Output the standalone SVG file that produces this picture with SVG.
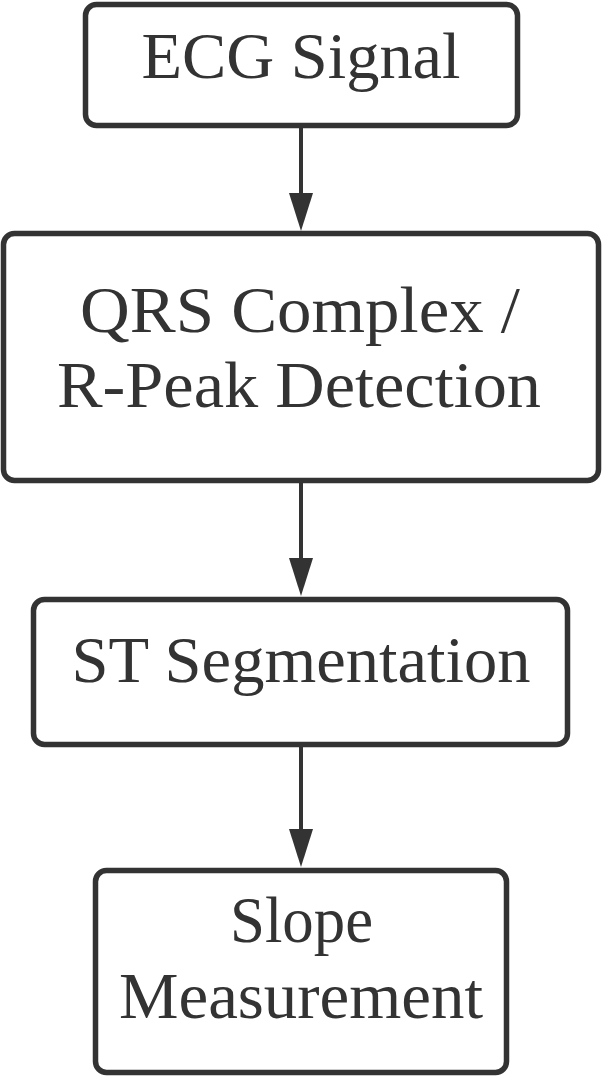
<svg xmlns="http://www.w3.org/2000/svg" width="602" height="1077" viewBox="0 0 602 1077">
<style>
.box{fill:#fff;stroke:#333;stroke-width:5.5}
.lbl{font-family:"Liberation Serif","Times New Roman",serif;font-size:65px;fill:#333;text-anchor:middle}
.edge{stroke:#333;stroke-width:4;fill:none}
</style>
<defs>
<marker id="ah" viewBox="0 0 38 24" refX="0" refY="12" markerWidth="38" markerHeight="24" markerUnits="userSpaceOnUse" orient="auto">
<path d="M0,0 L38,12 L0,24 z" fill="#333"/>
</marker>
</defs>
<rect width="602" height="1077" fill="#fff"/>
<g id="connectors">
<line class="edge" x1="301" y1="128" x2="301" y2="193" marker-end="url(#ah)"/>
<line class="edge" x1="301" y1="483" x2="301" y2="558" marker-end="url(#ah)"/>
<line class="edge" x1="301" y1="747" x2="301" y2="829" marker-end="url(#ah)"/>
</g>
<g id="n1">
<rect class="box" x="85.5" y="4.5" width="432" height="121" rx="11"/>
<text class="lbl" x="301" y="78" textLength="319" lengthAdjust="spacingAndGlyphs">ECG Signal</text>
</g>
<g id="n2">
<rect class="box" x="3.5" y="233.5" width="595" height="247" rx="11"/>
<text class="lbl" x="300" y="332" textLength="440" lengthAdjust="spacingAndGlyphs">QRS Complex /</text>
<text class="lbl" x="299" y="407" textLength="484" lengthAdjust="spacingAndGlyphs">R-Peak Detection</text>
</g>
<g id="n3">
<rect class="box" x="33.5" y="599.5" width="534" height="145" rx="11"/>
<text class="lbl" x="301" y="682" textLength="459" lengthAdjust="spacingAndGlyphs">ST Segmentation</text>
</g>
<g id="n4">
<rect class="box" x="95.5" y="870.5" width="411" height="202" rx="11"/>
<text class="lbl" x="301.5" y="942" textLength="143" lengthAdjust="spacingAndGlyphs">Slope</text>
<text class="lbl" x="301" y="1018" textLength="364" lengthAdjust="spacingAndGlyphs">Measurement</text>
</g>
</svg>
